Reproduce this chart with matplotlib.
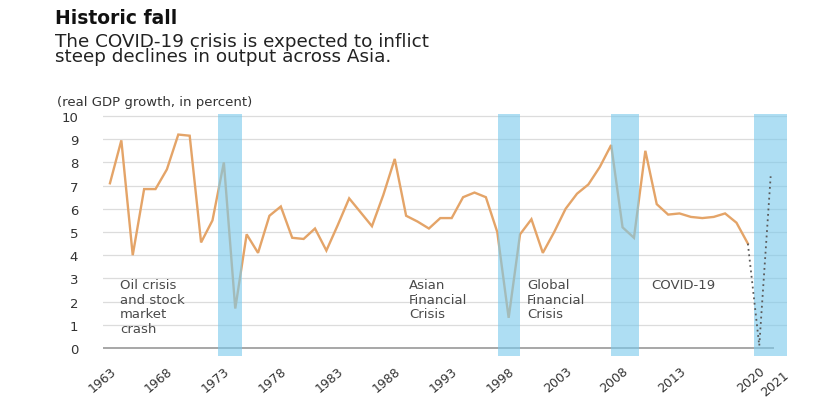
import numpy as np
import matplotlib
matplotlib.use("Agg")
import matplotlib.pyplot as plt
import matplotlib.transforms as mtransforms

# ---------------- data ----------------
years = list(range(1963, 2020))
growth = [7.1, 8.95, 4.0, 6.85, 6.85, 7.7, 9.2, 9.15, 4.55, 5.5,
          8.0, 1.7, 4.9, 4.1, 5.7, 6.1, 4.75, 4.7, 5.15, 4.2,
          5.3, 6.45, 5.85, 5.25, 6.6, 8.15, 5.7, 5.45, 5.15, 5.6,
          5.6, 6.5, 6.7, 6.5, 5.0, 1.3, 4.9, 5.55, 4.1, 5.0,
          6.0, 6.65, 7.05, 7.8, 8.75, 5.2, 4.75, 8.5, 6.2, 5.75,
          5.8, 5.65, 5.6, 5.65, 5.8, 5.4, 4.5]
forecast_years = [2019, 2020, 2021]
forecast_growth = [4.5, 0.1, 7.4]

crisis_periods = [(1972.5, 1974.6), (1997.1, 1999.0), (2007.0, 2009.4), (2019.5, 2022.4)]
crisis_labels = ["Oil crisis\nand stock\nmarket\ncrash",
                 "Asian\nFinancial\nCrisis",
                 "Global\nFinancial\nCrisis",
                 "COVID-19"]
crisis_label_x = [1963.9, 1989.25, 1999.6, 2010.5]

xtick_years = [1963, 1968, 1973, 1978, 1983, 1988, 1993, 1998, 2003, 2008, 2013, 2020, 2021]
ytick_values = list(range(0, 11))

title = "Historic fall"
subtitle = "The COVID-19 crisis is expected to inflict\nsteep declines in output across Asia."
unit_label = "(real GDP growth, in percent)"

assert len(years) == len(growth)

# ---------------- figure ----------------
plt.rcParams['font.family'] = ['DejaVu Sans']
W, H = 830, 410
fig = plt.figure(figsize=(W / 100, H / 100), dpi=100)
fig.patch.set_facecolor('white')

ax_l, ax_r, ax_t, ax_b = 103, 786.6, 115, 357
ax = fig.add_axes([ax_l / W, 1 - ax_b / H, (ax_r - ax_l) / W, (ax_b - ax_t) / H])
ax.set_xlim(1962.39, 2022.4)
ax.set_ylim(-0.345, 10.086)

for s in ax.spines.values():
    s.set_visible(False)

# gridlines
for v in ytick_values[1:]:
    ax.axhline(v, color='#DCDCDC', lw=0.9, zorder=1)
ax.hlines(0, 1962.39, 2021.3, color='#A0A0A0', lw=1.3, zorder=2)

# main line
ax.plot(years, growth, color='#E4A468', lw=1.7, zorder=3, solid_joinstyle='miter')

# crisis bands (on top, semi-transparent)
for (a, b) in crisis_periods:
    ax.axvspan(a, b, color='#7CCAEC', alpha=0.62, lw=0, zorder=4)

# forecast dotted
ax.plot(forecast_years, forecast_growth, color='#5A5A5A', lw=1.3,
        linestyle=(0, (1, 2)), zorder=5)

# crisis labels
for lab, x in zip(crisis_labels, crisis_label_x):
    ax.text(x, 3.0, lab, fontsize=9.5, color='#4A4A4A', va='top', ha='left',
            linespacing=1.15, zorder=6)

# ticks
ax.set_yticks(ytick_values)
ax.set_yticklabels([str(v) for v in ytick_values])
ax.tick_params(axis='y', length=0, pad=18, labelsize=9.5, labelcolor='#333333')
ax.set_xticks(xtick_years)
ax.set_xticklabels([str(y) for y in xtick_years], rotation=40, ha='right',
                   va='top', rotation_mode='anchor')
ax.tick_params(axis='x', length=0, pad=6, labelsize=9, labelcolor='#333333')
# nudge last label like the original
lbl = ax.get_xticklabels()[-1]
lbl.set_transform(lbl.get_transform() +
                  mtransforms.ScaledTranslation(12 / 100, -4 / 100, fig.dpi_scale_trans))

# titles
fig.text(55 / W, 1 - 24 / H, title, fontsize=13.5, fontweight='bold',
         color='#111111', va='baseline', ha='left')
# multi-line text: 'baseline' aligns the last line
fig.text(55 / W, 1 - 62.5 / H, subtitle, fontsize=13.2, linespacing=0.82,
         color='#222222', va='baseline', ha='left')
fig.text(57 / W, 1 - 106 / H, unit_label, fontsize=9.5, color='#333333',
         va='baseline', ha='left')

fig.savefig('out.png', dpi=100, facecolor='white')
